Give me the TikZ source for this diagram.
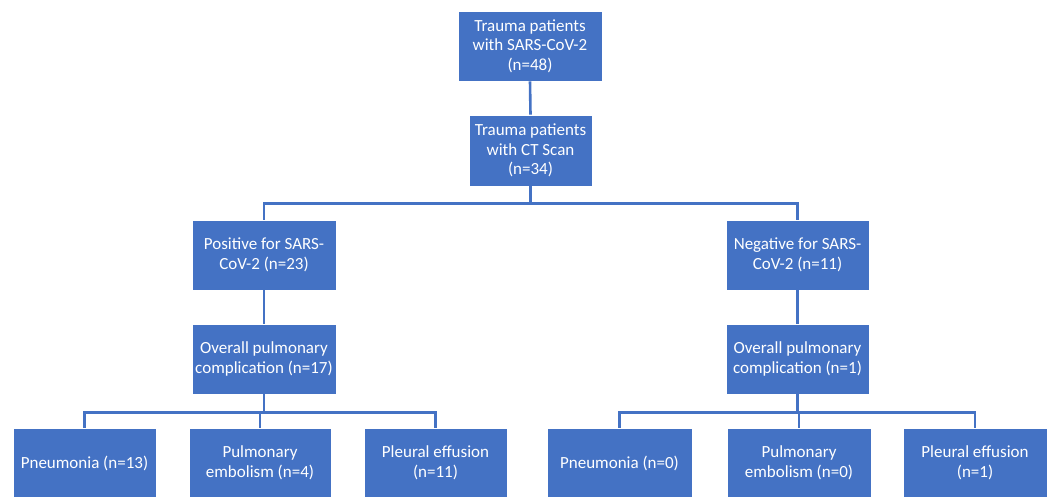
\documentclass[tikz,border=0pt]{standalone}
\usepackage{fontspec}
\setmainfont{Carlito}
\usepackage{tikz}
\definecolor{boxblue}{HTML}{4472C4}

\begin{document}
\begin{tikzpicture}[x=1pt, y=-1pt,
        box/.style={fill=boxblue, draw=white, line width=0.6pt, text=white, align=center,
            minimum width=144pt, minimum height=70pt, inner sep=2pt,
            font=\fontsize{17}{19.5}\selectfont},
        link/.style={draw=boxblue, line width=2.6pt}]
        \useasboundingbox (0,0) rectangle (1051,496);
        \node[box] (top) at (530,46) {Trauma patients\\with SARS-CoV-2\\(n=48)};
        \node[box, minimum width=123pt, minimum height=71pt] (ct) at (530.5,150.5) {Trauma patients\\with CT Scan\\(n=34)};
        \node[box] (pos) at (264,255) {Positive for SARS-\\CoV-2 (n=23)};
        \node[box, minimum width=143pt] (neg) at (797.5,255) {Negative for SARS-\\CoV-2 (n=11)};
        \node[box] (posall) at (264,359) {Overall pulmonary\\complication (n=17)};
        \node[box, minimum width=143pt] (negall) at (797.5,359) {Overall pulmonary\\complication (n=1)};
        \node[box, minimum width=143pt] (pn1) at (84.5,463) {Pneumonia (n=13)};
        \node[box, minimum width=142pt] (pe1) at (260,463) {Pulmonary\\embolism (n=4)};
        \node[box, minimum width=143pt] (pl1) at (435.5,463) {Pleural effusion\\(n=11)};
        \node[box, minimum width=145pt] (pn2) at (619.5,463) {Pneumonia (n=0)};
        \node[box] (pe2) at (799,463) {Pulmonary\\embolism (n=0)};
        \node[box] (pl2) at (975,463) {Pleural effusion\\(n=1)};
        \draw[link] (top.south) -- (ct.north);
        \draw[link] (ct.south) -- ++(0,17) coordinate (bar1);
        \draw[link] (pos.north) |- (bar1) -| (neg.north);
        \draw[link] (pos.south) -- (posall.north);
        \draw[link] (neg.south) -- (negall.north);
        \draw[link] (posall.south) -- ++(0,18) coordinate (bar2);
        \draw[link] (pn1.north) |- (bar2) -| (pl1.north);
        \draw[link] (pe1.north) -- (pe1.north |- bar2);
        \draw[link] (negall.south) -- ++(0,18) coordinate (bar3);
        \draw[link] (pn2.north) |- (bar3) -| (pl2.north);
        \draw[link] (pe2.north) -- (pe2.north |- bar3);
    \end{tikzpicture}
\end{document}
